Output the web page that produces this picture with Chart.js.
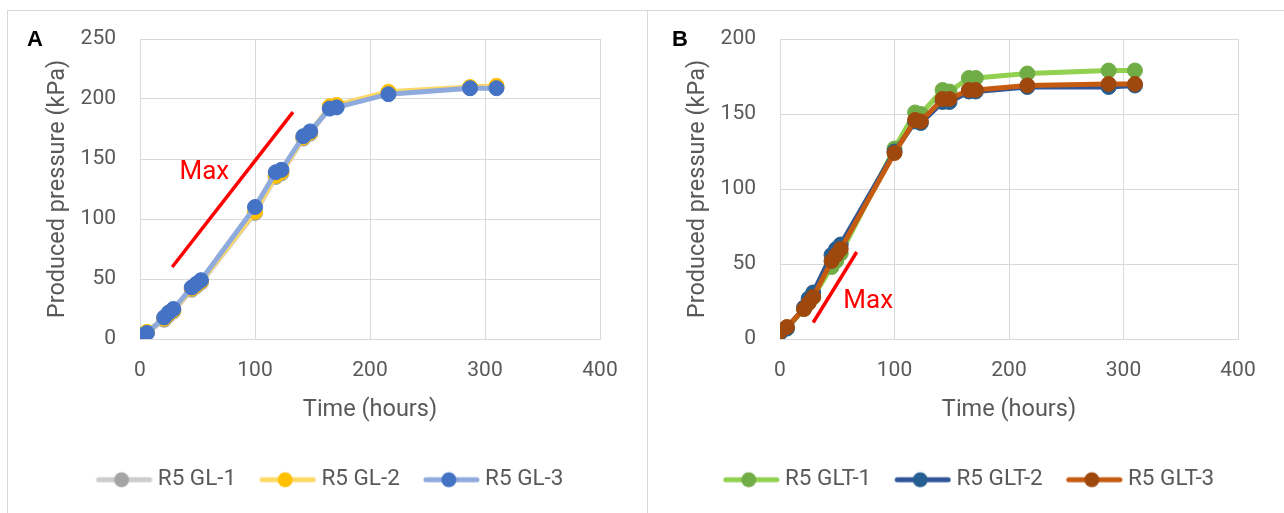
<!DOCTYPE html>
<html>
<head>
<meta charset="utf-8">
<title>Produced pressure</title>
<script src="https://cdn.jsdelivr.net/npm/chart.js@4.4.1/dist/chart.umd.min.js"></script>
<style>
  body { margin: 0; background: #fff; width: 1284px; height: 513px; overflow: hidden; position: relative; }
  .box { position: absolute; top: 11px; }
  #boxA { left: 8px; }
  #boxB { left: 648px; }
  .frame { position: absolute; background: #d9d9d9; }
</style>
</head>
<body>
<div class="frame" style="left:7px;top:10px;width:1277px;height:1px"></div>
<div class="frame" style="left:7px;top:10px;width:1px;height:503px"></div>
<div class="frame" style="left:647px;top:10px;width:1px;height:503px"></div>
<div class="box" id="boxA"><canvas id="chartA" width="638" height="502"></canvas></div>
<div class="box" id="boxB"><canvas id="chartB" width="635" height="502"></canvas></div>
<script>
// sampling times (hours), same for every reactor
const hours = [0, 6, 21, 25, 29, 45, 49, 53, 100, 118, 123, 142, 148, 165, 171, 216, 287, 310];

// panel A - GL
const gl1 = [2, 5, 16, 20, 23, 41, 44, 47, 105, 135, 138, 167, 171, 193, 194, 205, 209, 210];
const gl2 = [3, 6, 17, 21, 24, 42, 45, 48, 106, 136, 139, 168, 172, 194, 195, 206, 210, 211];
const gl3 = [3, 5, 18, 22, 25, 43, 46, 49, 110, 139, 141, 169, 173, 192, 193, 204, 209, 209];

// panel B - GLT
const glt1 = [5, 7, 20, 24, 28, 48, 52, 57, 127, 151, 150, 166, 165, 174, 174, 177, 179, 179];
const glt2 = [4, 7, 21, 27, 31, 56, 60, 63, 125, 145, 144, 158, 158, 165, 165, 168, 168, 169];
const glt3 = [5, 8, 20, 24, 28, 52, 56, 60, 124, 146, 145, 160, 160, 166, 166, 169, 170, 170];

// "Max" slope markers (data units)
const maxLineA = [{x: 28, y: 60}, {x: 133, y: 189}];
const maxTextA = [56, 139];
const maxLineB = [{x: 29, y: 11}, {x: 67, y: 58}];
const maxTextB = [77, 25];

const xTicks = [0, 100, 200, 300, 400];

Chart.defaults.font.family = 'Roboto';
Chart.defaults.color = '#595959';

function pts(ys) {
  return hours.map((h, i) => ({x: h, y: ys[i]}));
}

function legendIcon(line, dot) {
  const c = document.createElement('canvas');
  c.width = 58; c.height = 18;
  const g = c.getContext('2d');
  g.strokeStyle = line; g.lineWidth = 5; g.lineCap = 'round';
  g.beginPath(); g.moveTo(4, 9); g.lineTo(55, 9); g.stroke();
  g.fillStyle = dot;
  g.beginPath(); g.arc(27, 9, 7.5, 0, Math.PI * 2); g.fill();
  return c;
}

function series(label, ys, line, dot, order) {
  return {
    label: label,
    data: pts(ys),
    borderColor: line,
    backgroundColor: dot,
    pointBackgroundColor: dot,
    pointBorderColor: dot,
    pointBorderWidth: 1,
    pointRadius: 7.5,
    pointHoverRadius: 7.5,
    borderWidth: 5,
    order: order,
    icon: legendIcon(line, dot)
  };
}

function slope(data) {
  return {label: 'Max', data: data, borderColor: '#ff0000', borderWidth: 3.5, pointRadius: 0, order: 0, note: true};
}

const notes = {
  id: 'notes',
  afterLayout(chart, args, opts) {
    // centre the legend row on the whole panel, like the original
    chart.legend.left += opts.legendShift;
    chart.legend.right += opts.legendShift;
  },
  afterDatasetsDraw(chart, args, opts) {
    const {ctx, scales: {x, y}} = chart;
    ctx.save();
    ctx.textBaseline = 'middle';
    ctx.fillStyle = '#000';
    ctx.font = 'bold 22px "Liberation Sans"';
    ctx.textAlign = 'left';
    ctx.fillText(opts.letter, opts.letterX, 29);
    ctx.fillStyle = '#ff0000';
    ctx.font = '26px Roboto';
    ctx.textAlign = 'center';
    ctx.fillText('Max', x.getPixelForValue(opts.maxAt[0]), y.getPixelForValue(opts.maxAt[1]));
    ctx.restore();
  }
};

function build(id, datasets, yMax, letter, letterX, maxAt, padRight) {
  return new Chart(document.getElementById(id), {
    type: 'line',
    data: {datasets: datasets},
    plugins: [notes],
    options: {
      responsive: false,
      animation: false,
      events: [],
      layout: {padding: {left: 0, right: padRight, top: 28, bottom: 12}},
      scales: {
        x: {
          type: 'linear', min: 0, max: 400,
          afterBuildTicks: s => { s.ticks = xTicks.map(v => ({value: v})); },
          afterFit: s => { s.height = 101.5; },
          grid: {color: '#d9d9d9', drawTicks: false},
          border: {color: '#d9d9d9'},
          ticks: {font: {size: 21}, padding: 19, maxRotation: 0},
          title: {display: true, text: 'Time (hours)', font: {size: 23.5}, padding: {top: 0, bottom: 16}}
        },
        y: {
          min: 0, max: yMax,
          afterFit: s => { s.width = 132; },
          grid: {color: '#d9d9d9', drawTicks: true, tickLength: 16, tickColor: 'rgba(0,0,0,0)'},
          border: {color: '#d9d9d9'},
          ticks: {font: {size: 21}, padding: 8, stepSize: 50},
          title: {display: true, text: 'Produced pressure (kPa)', font: {size: 23.5}, padding: {top: 36, bottom: 0}}
        }
      },
      plugins: {
        notes: {letter: letter, letterX: letterX, maxAt: maxAt, legendShift: 28},
        tooltip: {enabled: false},
        legend: {
          position: 'bottom',
          labels: {
            color: '#595959',
            font: {size: 22.5},
            padding: 28,
            usePointStyle: true,
            pointStyleWidth: 46,
            boxHeight: 22,
            filter: (item, data) => !data.datasets[item.datasetIndex].note,
            sort: (a, b) => a.datasetIndex - b.datasetIndex,
            generateLabels(chart) {
              const items = Chart.defaults.plugins.legend.labels.generateLabels(chart);
              items.forEach(it => { it.pointStyle = chart.data.datasets[it.datasetIndex].icon; });
              return items;
            }
          }
        }
      }
    }
  });
}

build('chartA', [
  series('R5 GL-1', gl1, '#cccccc', '#a5a5a5', 3),
  series('R5 GL-2', gl2, '#ffd966', '#ffc000', 2),
  series('R5 GL-3', gl3, '#8faadc', '#4472c4', 1),
  slope(maxLineA)
], 250, 'A', 19, maxTextA, 46);

build('chartB', [
  series('R5 GLT-1', glt1, '#92d050', '#70ad47', 3),
  series('R5 GLT-2', glt2, '#2f5597', '#255e91', 2),
  series('R5 GLT-3', glt3, '#c55a11', '#9e480e', 1),
  slope(maxLineB)
], 200, 'B', 24, maxTextB, 45);
</script>
</body>
</html>
